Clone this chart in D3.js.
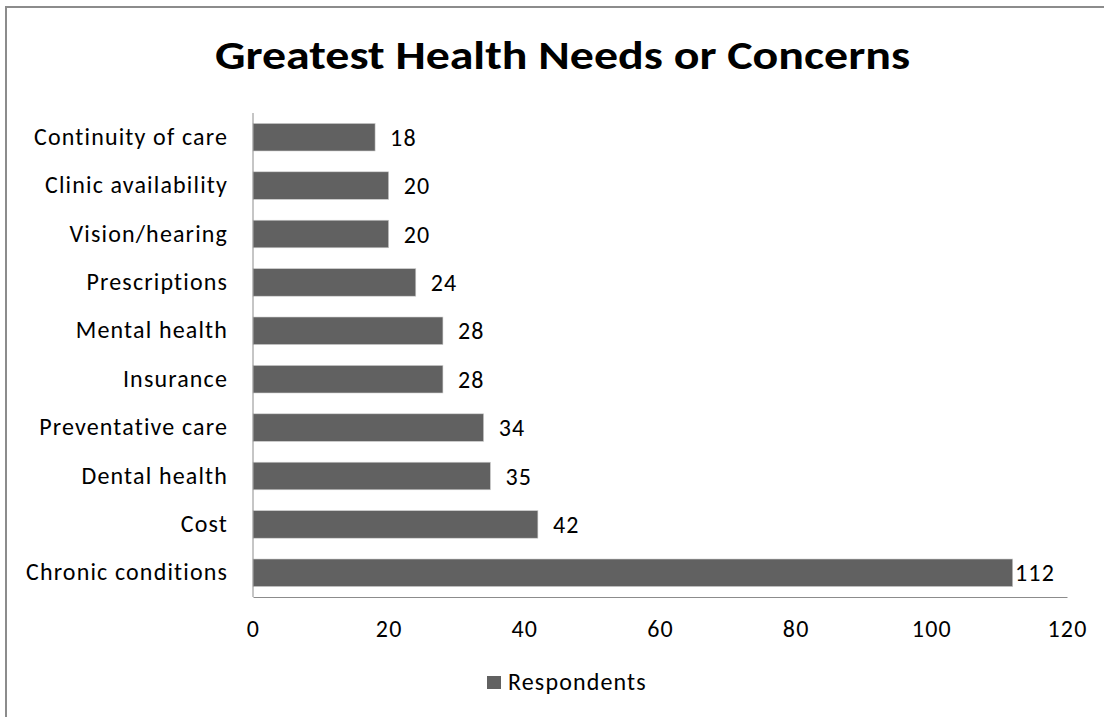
<!DOCTYPE html>
<html>
<head>
<meta charset="utf-8">
<script src="https://cdn.jsdelivr.net/npm/d3@7"></script>
<style>
  body { margin: 0; background: #fff; }
  text { font-family: Carlito, Calibri, "Open Sans", sans-serif; fill: #000; }
</style>
</head>
<body>
<div id="chart"></div>
<script>
var categories = [
  "Continuity of care",
  "Clinic availability",
  "Vision/hearing",
  "Prescriptions",
  "Mental health",
  "Insurance",
  "Preventative care",
  "Dental health",
  "Cost",
  "Chronic conditions"
];
var respondents = [18, 20, 20, 24, 28, 28, 34, 35, 42, 112];
var xTicks = [0, 20, 40, 60, 80, 100, 120];
var titleText = "Greatest Health Needs or Concerns";
var seriesName = "Respondents";

var width = 1104,
  height = 717,
  margin = { top: 113, left: 253, right: 37, bottom: 120 },
  barColor = "#616161",
  fontSize = 24,
  spacing = 1.15;

var svg = d3.select("#chart").append("svg")
  .attr("width", width)
  .attr("height", height);

// outer chart frame (only top and left edges show in the crop)
svg.append("path")
  .attr("d", "M6,717 V7 H1104")
  .attr("fill", "none")
  .attr("stroke", "#8c8c8c")
  .attr("stroke-width", 2);

svg.append("text")
  .attr("x", 562.5)
  .attr("y", 69)
  .attr("text-anchor", "middle")
  .attr("font-size", 41)
  .attr("font-weight", "bold")
  .attr("textLength", 695)
  .attr("lengthAdjust", "spacingAndGlyphs")
  .text(titleText);

var x = d3.scaleLinear()
  .domain([0, 120])
  .range([margin.left, width - margin.right]);

var y = d3.scaleBand()
  .domain(categories)
  .range([margin.top, height - margin.bottom])
  .paddingInner(0.43)
  .paddingOuter(0.215);

var bars = svg.append("g").attr("class", "bars");

bars.selectAll("rect")
  .data(categories)
  .join("rect")
  .attr("x", x(0))
  .attr("y", d => y(d))
  .attr("width", (d, i) => x(respondents[i]) - x(0))
  .attr("height", y.bandwidth())
  .attr("fill", barColor)
  .attr("stroke", "#d0d0d0")
  .attr("stroke-width", 0.6);

// value labels
bars.selectAll("text")
  .data(categories)
  .join("text")
  .attr("x", (d, i) => Math.min(x(respondents[i]) + 15, x(120) - 52))
  .attr("y", d => y(d) + y.bandwidth() / 2)
  .attr("dy", "0.36em")
  .attr("font-size", fontSize)
  .attr("letter-spacing", spacing)
  .text((d, i) => respondents[i]);

// axes
var yAxis = svg.append("g")
  .attr("transform", `translate(${margin.left},0)`)
  .call(d3.axisLeft(y).tickSize(0).tickPadding(25));

yAxis.select(".domain")
  .attr("d", `M0,${margin.top}V${height - margin.bottom}`)
  .attr("stroke", "#8c8c8c");
yAxis.selectAll("text")
  .attr("font-size", fontSize)
  .attr("letter-spacing", spacing)
  .attr("fill", "#000");

var xAxis = svg.append("g")
  .attr("transform", `translate(0,${height - margin.bottom})`)
  .call(d3.axisBottom(x).tickValues(xTicks).tickSize(0));

xAxis.select(".domain").attr("stroke", "#8c8c8c");
xAxis.selectAll("text")
  .attr("y", 40)
  .attr("dy", null)
  .attr("font-size", fontSize)
  .attr("letter-spacing", spacing)
  .attr("fill", "#000");

yAxis.attr("font-family", null);
xAxis.attr("font-family", null);

// legend
var legend = svg.append("g").attr("transform", "translate(487,676)");
legend.append("rect")
  .attr("width", 14)
  .attr("height", 13)
  .attr("fill", barColor);
legend.append("text")
  .attr("x", 21)
  .attr("y", 14)
  .attr("font-size", fontSize)
  .attr("letter-spacing", spacing)
  .text(seriesName);
</script>
</body>
</html>
